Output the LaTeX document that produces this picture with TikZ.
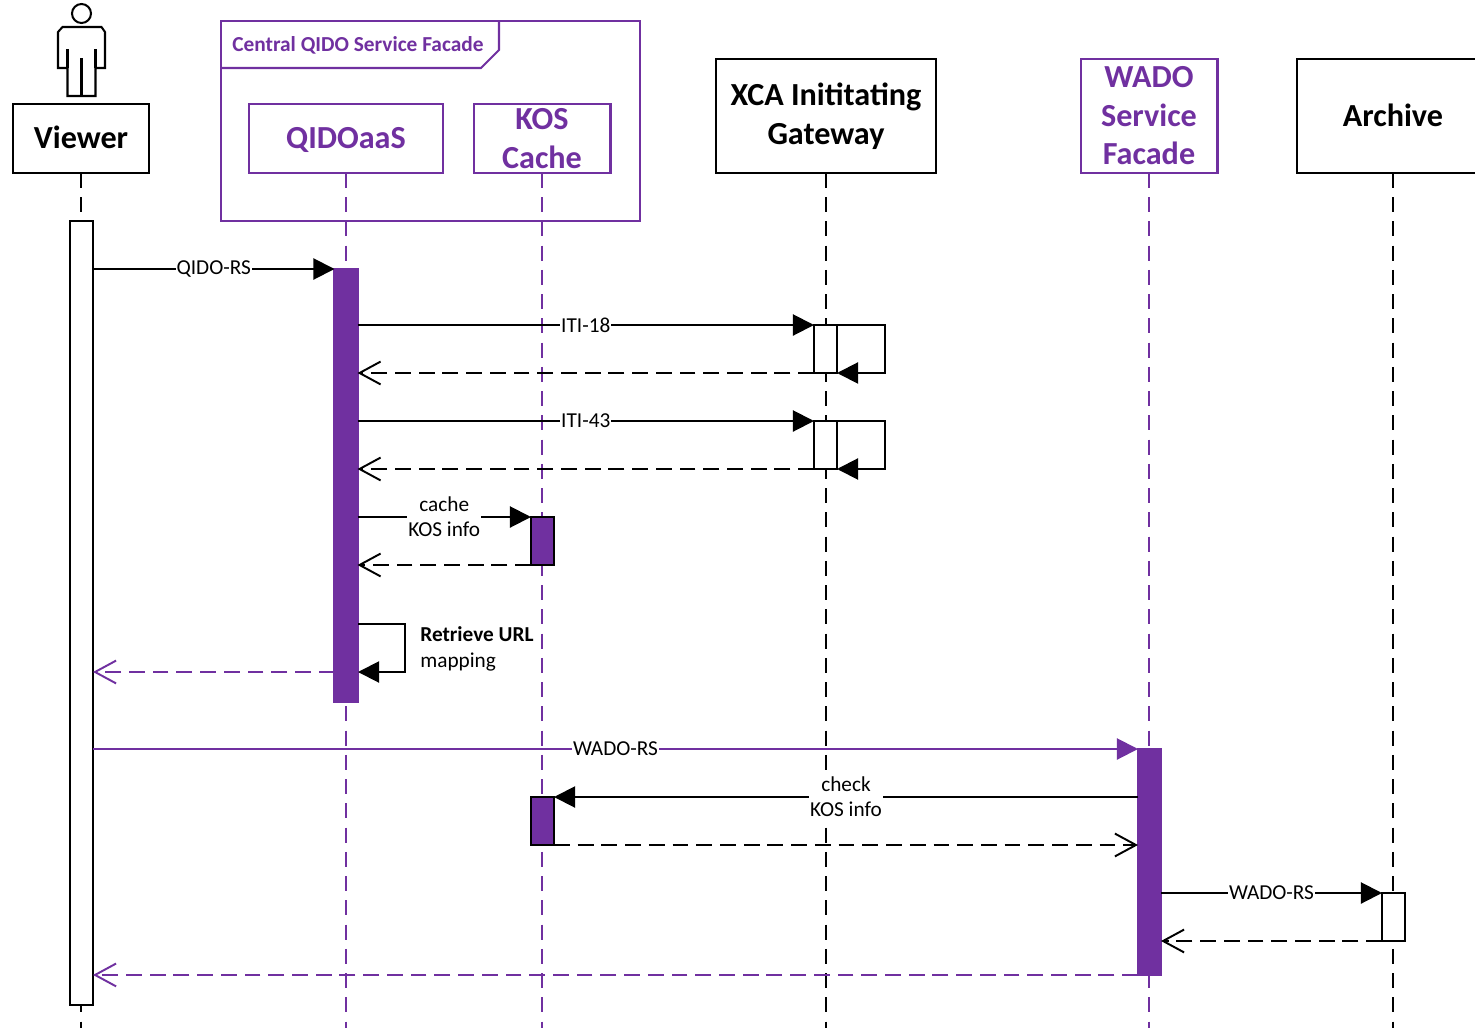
\documentclass[tikz,border=0pt]{standalone}
\usepackage{fontspec}
\setmainfont{Carlito}
\usetikzlibrary{arrows.meta,calc}
\definecolor{facadepurple}{RGB}{112, 48, 160}
\tikzset{
  headbox/.style={draw=black, line width=1.15pt, fill=white, inner sep=0pt, outer sep=0pt, align=center,
    font=\fontsize{18.3}{21.9}\selectfont\bfseries},
  purplebox/.style={headbox, draw=facadepurple, text=facadepurple},
  oneline/.style={text height=12pt, text depth=0.5pt},
  lifeline/.style={line width=1.15pt, dash pattern=on 8.5pt off 5.3pt},
  barwhite/.style={draw=black, fill=white, line width=1.15pt, minimum width=0.46cm, inner sep=0pt, outer sep=0pt, anchor=north},
  barpurple/.style={barwhite, draw=facadepurple, fill=facadepurple},
  barkos/.style={barwhite, fill=facadepurple},
  callmsg/.style={line width=1.15pt, -{Triangle[length=12pt,width=12pt]}},
  backmsg/.style={line width=1.15pt, dash pattern=on 9pt off 4.5pt, -{Straight Barb[length=12pt,width=13pt,line width=1.1pt]}},
  msglabel/.style={midway, fill=white, inner sep=0.5pt, align=center, text=black,
    font=\fontsize{12.1}{14.2}\selectfont}
}
\begin{document}
\begin{tikzpicture}[x=0.02cm, y=-0.02cm]
    \useasboundingbox (0,0) rectangle (1475,1028);
    \fill[white] (0,0) rectangle (1475,1028);

    % Actor figure over the viewer
    \draw[line width=1.15pt] (81.5,13.5) ellipse (9.5 and 9.5);
    \draw[line width=1.15pt] (62.5,27) -- (101.5,27) -- (105,32) -- (105,68) -- (95.5,68)
        -- (95.5,96) -- (67.5,96) -- (67.5,68) -- (58,68) -- (58,32) -- cycle;
    \draw[line width=1.15pt] (67.5,49) -- (67.5,68) (95.5,49) -- (95.5,68) (81.5,58) -- (81.5,96);

    % Header boxes
    \node[headbox, oneline, minimum width=2.74cm, minimum height=1.38cm] (viewer) at (81,138.5) {Viewer};
    \node[purplebox, oneline, minimum width=3.88cm, minimum height=1.38cm] (qidoaas) at (346,138.5) {QIDOaaS};
    \node[purplebox, minimum width=2.74cm, minimum height=1.38cm] (kos) at (542,138.5) {KOS\\Cache};
    \node[headbox, minimum width=4.40cm, minimum height=2.28cm] (xca) at (826,116) {XCA Inititating\\Gateway};
    \node[purplebox, minimum width=2.74cm, minimum height=2.28cm] (wado) at (1149,116) {WADO\\Service\\Facade};
    \node[headbox, oneline, minimum width=3.84cm, minimum height=2.28cm] (archive) at (1393,116) {Archive};

    % Lifelines
    \coordinate (viewerend) at (81,1034);
    \coordinate (qidoend) at (346,1034);
    \coordinate (kosend) at (542,1034);
    \coordinate (xcaend) at (826,1034);
    \coordinate (wadoend) at (1149,1034);
    \coordinate (archiveend) at (1393,1034);
    \draw[lifeline] (viewer) -- (viewerend);
    \draw[lifeline, draw=facadepurple] (qidoaas) -- (qidoend);
    \draw[lifeline, draw=facadepurple] (kos) -- (kosend);
    \draw[lifeline] (xca) -- (xcaend);
    \draw[lifeline, draw=facadepurple] (wado) -- (wadoend);
    \draw[lifeline] (archive) -- (archiveend);

    % Frame round QIDOaaS and the cache
    \draw[draw=facadepurple, line width=1.15pt] (221,21) rectangle (640,221);
    \draw[draw=facadepurple, line width=1.15pt] (221,68) -- (481,68) -- (499,50) -- (499,21);
    \node[anchor=west, inner sep=0pt, text=facadepurple, font=\fontsize{12.15}{14}\selectfont\bfseries] (frametitle) at (232,45) {Central QIDO Service Facade};

    % Activation bars
    \node[barwhite, minimum height=15.68cm] (viewerbar) at (81.5,221) {};
    \node[barpurple, minimum height=8.66cm] (qidobar) at (346,269) {};
    \node[barkos, minimum height=0.96cm] (kosbara) at (542.5,517) {};
    \node[barkos, minimum height=0.96cm] (kosbarb) at (542.5,797) {};
    \node[barwhite, minimum height=0.96cm] (xcabara) at (825.5,325) {};
    \node[barwhite, minimum height=0.96cm] (xcabarb) at (825.5,421) {};
    \node[barpurple, minimum height=4.52cm] (wadobar) at (1149.5,749) {};
    \node[barwhite, minimum height=0.96cm] (archivebar) at (1393.5,893) {};

    % Step 1: query from the viewer
    \draw[callmsg] (viewerbar.east |- qidobar.north) -- node[msglabel] (qidolabel) {QIDO-RS} (qidobar.north west);

    % Step 2: the two gateway exchanges
    \draw[callmsg] (qidobar.east |- xcabara.north) -- node[msglabel] (itialabel) {ITI-18} (xcabara.north west);
    \draw[callmsg] (xcabara.north east) -- ++(48,0) |- (xcabara.south east);
    \draw[backmsg] (xcabara.south west) -- (qidobar.east |- xcabara.south);
    \draw[callmsg] (qidobar.east |- xcabarb.north) -- node[msglabel] (itiblabel) {ITI-43} (xcabarb.north west);
    \draw[callmsg] (xcabarb.north east) -- ++(48,0) |- (xcabarb.south east);
    \draw[backmsg] (xcabarb.south west) -- (qidobar.east |- xcabarb.south);

    % Step 3: cache write
    \draw[callmsg] (qidobar.east |- kosbara.north) -- node[msglabel] (cachelabel) {cache\\KOS info} (kosbara.north west);
    \draw[backmsg] (kosbara.south west) -- (qidobar.east |- kosbara.south);

    % Step 4: URL mapping and reply
    \coordinate (mapstart) at (358,624);
    \coordinate (mapend) at (358,672);
    \draw[callmsg] (mapstart) -- ++(47,0) |- (mapend);
    \node[anchor=west, inner sep=0pt, align=left, font=\fontsize{12.1}{14.8}\selectfont] (maplabel) at (420,649) {\textbf{Retrieve URL}\\mapping};
    \draw[backmsg, draw=facadepurple] (qidobar.west |- mapend) -- (viewerbar.east |- mapend);

    % Step 5: retrieve
    \draw[callmsg, draw=facadepurple, fill=facadepurple] (viewerbar.east |- wadobar.north) -- node[msglabel] (wadolabel) {WADO-RS} (wadobar.north west);
    \draw[callmsg] (wadobar.west |- kosbarb.north) -- node[msglabel] (checklabel) {check\\KOS info} (kosbarb.north east);
    \draw[backmsg] (kosbarb.south east) -- (wadobar.west |- kosbarb.south);
    \draw[callmsg] (wadobar.east |- archivebar.north) -- node[msglabel] (archivelabel) {WADO-RS} (archivebar.north west);
    \draw[backmsg] (archivebar.south west) -- (wadobar.east |- archivebar.south);
    \draw[backmsg, draw=facadepurple] (wadobar.south west) -- (viewerbar.east |- wadobar.south);
\end{tikzpicture}
\end{document}
